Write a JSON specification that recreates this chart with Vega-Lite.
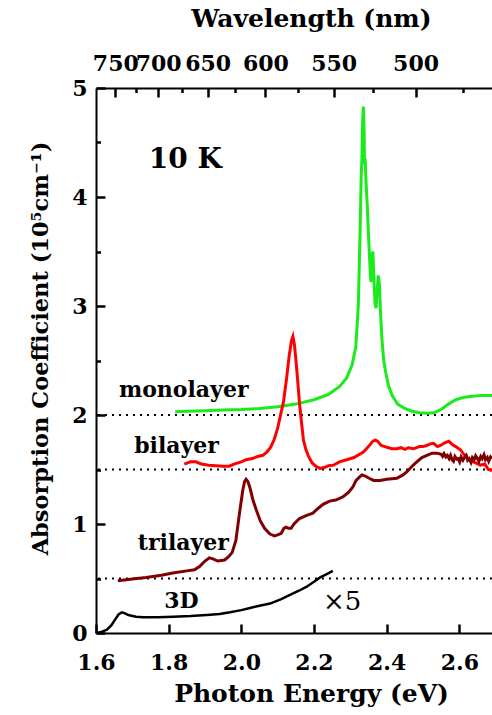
{
  "$schema": "https://vega.github.io/schema/vega-lite/v6.json",
  "width": 396,
  "height": 545,
  "autosize": "none",
  "padding": {"left": 96, "top": 88, "right": 0, "bottom": 82},
  "background": "white",
  "config": {
    "font": "DejaVu Serif",
    "view": {"stroke": null},
    "axis": {
      "labelFont": "DejaVu Serif", "labelFontWeight": "bold", "labelFontSize": 22, "labelColor": "black",
      "titleFont": "DejaVu Serif", "titleFontWeight": "bold", "titleFontSize": 25, "titleColor": "black",
      "domainColor": "black", "domainWidth": 2, "ticks": true, "tickColor": "black", "tickWidth": 2.5, "tickOpacity": 1,
      "grid": false, "labelOverlap": false, "labelBound": false, "labelFlush": false
    }
  },
  "datasets": {
    "levels": [{"v": 2}, {"v": 1.5}, {"v": 0.5}],
    "mono": [
      {"e":1.818,"v":2.03},{"e":1.85,"v":2.035},{"e":1.9,"v":2.04},{"e":1.95,"v":2.045},{"e":2.0,"v":2.05},
      {"e":2.05,"v":2.06},{"e":2.1,"v":2.075},{"e":2.15,"v":2.1},{"e":2.2,"v":2.14},{"e":2.24,"v":2.19},
      {"e":2.27,"v":2.26},{"e":2.29,"v":2.34},{"e":2.305,"v":2.46},{"e":2.315,"v":2.62},{"e":2.322,"v":3.0},
      {"e":2.327,"v":3.7},{"e":2.33,"v":4.2},{"e":2.332,"v":4.35},{"e":2.334,"v":4.7},{"e":2.336,"v":4.83},
      {"e":2.338,"v":4.6},{"e":2.339,"v":4.3},{"e":2.341,"v":4.35},{"e":2.343,"v":4.15},{"e":2.347,"v":3.9},
      {"e":2.35,"v":3.65},{"e":2.353,"v":3.45},{"e":2.355,"v":3.3},{"e":2.357,"v":3.22},{"e":2.359,"v":3.45},
      {"e":2.362,"v":3.5},{"e":2.365,"v":3.25},{"e":2.368,"v":3.02},{"e":2.371,"v":2.98},{"e":2.374,"v":3.15},
      {"e":2.377,"v":3.28},{"e":2.38,"v":3.2},{"e":2.383,"v":2.95},{"e":2.387,"v":2.7},{"e":2.392,"v":2.5},
      {"e":2.398,"v":2.38},{"e":2.405,"v":2.27},{"e":2.415,"v":2.18},{"e":2.43,"v":2.1},{"e":2.45,"v":2.06},
      {"e":2.47,"v":2.035},{"e":2.49,"v":2.02},{"e":2.51,"v":2.015},{"e":2.53,"v":2.02},{"e":2.55,"v":2.05},
      {"e":2.57,"v":2.1},{"e":2.59,"v":2.14},{"e":2.61,"v":2.16},{"e":2.63,"v":2.17},{"e":2.66,"v":2.18},{"e":2.69,"v":2.18}
    ],
    "bi": [
      {"e":1.843,"v":1.55},{"e":1.86,"v":1.57},{"e":1.875,"v":1.57},{"e":1.89,"v":1.55},{"e":1.91,"v":1.54},
      {"e":1.93,"v":1.535},{"e":1.95,"v":1.53},{"e":1.967,"v":1.53},{"e":1.98,"v":1.55},{"e":2.0,"v":1.57},
      {"e":2.013,"v":1.59},{"e":2.03,"v":1.6},{"e":2.045,"v":1.62},{"e":2.059,"v":1.63},{"e":2.07,"v":1.66},
      {"e":2.08,"v":1.7},{"e":2.09,"v":1.77},{"e":2.1,"v":1.88},{"e":2.108,"v":2.0},{"e":2.116,"v":2.12},
      {"e":2.124,"v":2.32},{"e":2.132,"v":2.55},{"e":2.138,"v":2.68},{"e":2.142,"v":2.72},{"e":2.146,"v":2.65},
      {"e":2.151,"v":2.48},{"e":2.156,"v":2.28},{"e":2.16,"v":2.11},{"e":2.166,"v":1.92},{"e":2.171,"v":1.77},
      {"e":2.178,"v":1.68},{"e":2.185,"v":1.62},{"e":2.195,"v":1.56},{"e":2.205,"v":1.53},{"e":2.217,"v":1.51},
      {"e":2.23,"v":1.52},{"e":2.24,"v":1.535},{"e":2.254,"v":1.54},{"e":2.27,"v":1.57},{"e":2.29,"v":1.59},
      {"e":2.31,"v":1.61},{"e":2.336,"v":1.66},{"e":2.35,"v":1.71},{"e":2.362,"v":1.76},{"e":2.369,"v":1.77},
      {"e":2.375,"v":1.76},{"e":2.385,"v":1.72},{"e":2.395,"v":1.71},{"e":2.405,"v":1.7},{"e":2.415,"v":1.69},
      {"e":2.428,"v":1.69},{"e":2.44,"v":1.7},{"e":2.45,"v":1.685},{"e":2.46,"v":1.7},{"e":2.474,"v":1.69},
      {"e":2.49,"v":1.71},{"e":2.5,"v":1.71},{"e":2.51,"v":1.72},{"e":2.52,"v":1.735},{"e":2.529,"v":1.74},
      {"e":2.54,"v":1.71},{"e":2.548,"v":1.72},{"e":2.56,"v":1.745},{"e":2.571,"v":1.76},{"e":2.58,"v":1.73},
      {"e":2.59,"v":1.71},{"e":2.603,"v":1.68},{"e":2.615,"v":1.63},{"e":2.63,"v":1.58},{"e":2.645,"v":1.56},
      {"e":2.658,"v":1.54},{"e":2.67,"v":1.55},{"e":2.68,"v":1.5},{"e":2.69,"v":1.49}
    ],
    "tri": [
      {"e":1.66,"v":0.48},{"e":1.7,"v":0.495},{"e":1.738,"v":0.51},{"e":1.78,"v":0.53},{"e":1.811,"v":0.55},
      {"e":1.85,"v":0.57},{"e":1.871,"v":0.58},{"e":1.885,"v":0.61},{"e":1.9,"v":0.66},{"e":1.912,"v":0.69},
      {"e":1.922,"v":0.68},{"e":1.935,"v":0.66},{"e":1.954,"v":0.67},{"e":1.965,"v":0.7},{"e":1.975,"v":0.74},
      {"e":1.985,"v":0.85},{"e":1.995,"v":1.1},{"e":2.004,"v":1.31},{"e":2.009,"v":1.39},{"e":2.013,"v":1.41},
      {"e":2.018,"v":1.39},{"e":2.024,"v":1.33},{"e":2.032,"v":1.22},{"e":2.041,"v":1.13},{"e":2.052,"v":1.03},
      {"e":2.064,"v":0.96},{"e":2.078,"v":0.91},{"e":2.091,"v":0.89},{"e":2.1,"v":0.9},{"e":2.11,"v":0.915},
      {"e":2.117,"v":0.96},{"e":2.123,"v":0.97},{"e":2.13,"v":0.96},{"e":2.137,"v":0.96},{"e":2.145,"v":1.0},
      {"e":2.16,"v":1.05},{"e":2.18,"v":1.08},{"e":2.197,"v":1.1},{"e":2.21,"v":1.14},{"e":2.225,"v":1.18},
      {"e":2.243,"v":1.21},{"e":2.26,"v":1.22},{"e":2.28,"v":1.25},{"e":2.295,"v":1.29},{"e":2.307,"v":1.34},
      {"e":2.316,"v":1.4},{"e":2.325,"v":1.43},{"e":2.332,"v":1.45},{"e":2.341,"v":1.44},{"e":2.352,"v":1.42},
      {"e":2.364,"v":1.4},{"e":2.382,"v":1.4},{"e":2.4,"v":1.41},{"e":2.428,"v":1.42},{"e":2.445,"v":1.45},
      {"e":2.456,"v":1.48},{"e":2.47,"v":1.53},{"e":2.483,"v":1.57},{"e":2.497,"v":1.61},{"e":2.511,"v":1.63},
      {"e":2.525,"v":1.65},{"e":2.539,"v":1.65},{"e":2.55,"v":1.64},{"e":2.554,"v":1.62},{"e":2.558,"v":1.645},
      {"e":2.563,"v":1.615},{"e":2.567,"v":1.63},{"e":2.572,"v":1.6},{"e":2.576,"v":1.63},{"e":2.58,"v":1.59},
      {"e":2.584,"v":1.575},{"e":2.588,"v":1.62},{"e":2.593,"v":1.595},{"e":2.597,"v":1.6},{"e":2.601,"v":1.57},
      {"e":2.605,"v":1.615},{"e":2.61,"v":1.585},{"e":2.614,"v":1.61},{"e":2.619,"v":1.63},{"e":2.623,"v":1.585},
      {"e":2.627,"v":1.6},{"e":2.632,"v":1.565},{"e":2.636,"v":1.61},{"e":2.641,"v":1.59},{"e":2.645,"v":1.625},
      {"e":2.65,"v":1.6},{"e":2.654,"v":1.575},{"e":2.659,"v":1.62},{"e":2.663,"v":1.6},{"e":2.668,"v":1.635},
      {"e":2.672,"v":1.59},{"e":2.677,"v":1.61},{"e":2.681,"v":1.575},{"e":2.686,"v":1.615},{"e":2.69,"v":1.6}
    ],
    "d3": [
      {"e":1.6,"v":0.0},{"e":1.615,"v":0.01},{"e":1.63,"v":0.03},{"e":1.642,"v":0.07},{"e":1.652,"v":0.12},
      {"e":1.662,"v":0.17},{"e":1.671,"v":0.19},{"e":1.68,"v":0.18},{"e":1.689,"v":0.165},{"e":1.71,"v":0.15},
      {"e":1.73,"v":0.145},{"e":1.77,"v":0.145},{"e":1.813,"v":0.15},{"e":1.86,"v":0.155},{"e":1.905,"v":0.165},
      {"e":1.94,"v":0.175},{"e":1.969,"v":0.19},{"e":2.0,"v":0.21},{"e":2.024,"v":0.23},{"e":2.05,"v":0.25},
      {"e":2.079,"v":0.27},{"e":2.11,"v":0.31},{"e":2.134,"v":0.35},{"e":2.16,"v":0.39},{"e":2.18,"v":0.425},
      {"e":2.2,"v":0.47},{"e":2.217,"v":0.51},{"e":2.235,"v":0.54},{"e":2.252,"v":0.57}
    ],
    "big": [{"e":1.745,"v":4.27,"t":"10 K"}],
    "labels": [
      {"e":1.663,"v":2.165,"t":"monolayer"},
      {"e":1.705,"v":1.654,"t":"bilayer"},
      {"e":1.715,"v":0.76,"t":"trilayer"},
      {"e":1.788,"v":0.23,"t":"3D"}
    ],
    "times": [{"e":2.225,"v":0.21,"t":"×5"}]
  },
  "layer": [
    {
      "layer": [
        {
          "data": {"name": "levels"},
          "mark": {"type": "rule", "strokeDash": [2, 5], "strokeWidth": 2, "color": "black"},
          "encoding": {
            "y": {
              "field": "v", "type": "quantitative",
              "scale": {"domain": [0, 5], "nice": false, "zero": true},
              "title": "Absorption Coefficient (10⁵cm⁻¹)",
              "axis": {
                "titleFontSize": 22.5,
                "values": [0, 0.5, 1, 1.5, 2, 2.5, 3, 3.5, 4, 4.5, 5],
                "labelExpr": "datum.value % 1 == 0 ? format(datum.value, 'd') : ''",
                "tickSize": {"condition": {"test": "datum.value % 1 == 0", "value": -9}, "value": -4.5},
                "labelPadding": 18,
                "titlePadding": 19,
                "titleY": 260
              }
            }
          }
        },
        {
          "data": {"name": "mono"},
          "mark": {"type": "line", "color": "#1aeb1a", "strokeWidth": 3, "clip": true},
          "encoding": {
            "x": {
              "field": "e", "type": "quantitative",
              "scale": {"domain": [1.6, 2.69], "nice": false, "zero": false},
              "title": "Photon Energy (eV)",
              "axis": {
                "values": [1.6, 1.7, 1.8, 1.9, 2.0, 2.1, 2.2, 2.3, 2.4, 2.5, 2.6],
                "labelExpr": "round(datum.value*10) % 2 == 0 ? format(datum.value, '.1f') : ''",
                "tickSize": {"condition": {"test": "round(datum.value*10) % 2 == 0", "value": -9}, "value": -4.5},
                "labelPadding": 28,
                "titlePadding": 8,
                "titleX": 215
              }
            },
            "y": {"field": "v", "type": "quantitative", "title": "Absorption Coefficient (10⁵cm⁻¹)"}
          }
        },
        {
          "data": {"name": "bi"},
          "mark": {"type": "line", "color": "#ff0000", "strokeWidth": 3, "clip": true},
          "encoding": {
            "x": {"field": "e", "type": "quantitative", "title": "Photon Energy (eV)"},
            "y": {"field": "v", "type": "quantitative", "title": "Absorption Coefficient (10⁵cm⁻¹)"}
          }
        },
        {
          "data": {"name": "tri"},
          "mark": {"type": "line", "color": "#800000", "strokeWidth": 3, "clip": true},
          "encoding": {
            "x": {"field": "e", "type": "quantitative", "title": "Photon Energy (eV)"},
            "y": {"field": "v", "type": "quantitative", "title": "Absorption Coefficient (10⁵cm⁻¹)"}
          }
        },
        {
          "data": {"name": "d3"},
          "mark": {"type": "line", "color": "black", "strokeWidth": 2.5, "clip": true},
          "encoding": {
            "x": {"field": "e", "type": "quantitative", "title": "Photon Energy (eV)"},
            "y": {"field": "v", "type": "quantitative", "title": "Absorption Coefficient (10⁵cm⁻¹)"}
          }
        },
        {
          "data": {"name": "times"},
          "mark": {"type": "text", "align": "left", "baseline": "alphabetic", "font": "DejaVu Serif", "fontSize": 26, "color": "black"},
          "encoding": {
            "x": {"field": "e", "type": "quantitative", "title": "Photon Energy (eV)"},
            "y": {"field": "v", "type": "quantitative", "title": "Absorption Coefficient (10⁵cm⁻¹)"},
            "text": {"field": "t"}
          }
        },
        {
          "data": {"name": "big"},
          "mark": {"type": "text", "align": "left", "baseline": "alphabetic", "font": "DejaVu Serif", "fontWeight": "bold", "fontSize": 28, "color": "black"},
          "encoding": {
            "x": {"field": "e", "type": "quantitative", "title": "Photon Energy (eV)"},
            "y": {"field": "v", "type": "quantitative", "title": "Absorption Coefficient (10⁵cm⁻¹)"},
            "text": {"field": "t"}
          }
        }
      ]
    },
    {
      "data": {"name": "labels"},
      "mark": {"type": "text", "align": "left", "baseline": "alphabetic", "font": "DejaVu Serif", "fontWeight": "bold", "fontSize": 22, "color": "black"},
      "encoding": {
        "x": {
          "field": "e", "type": "quantitative",
          "scale": {"domain": [1.6, 2.69], "nice": false, "zero": false},
          "title": "Wavelength (nm)",
          "axis": {
            "orient": "top",
            "values": [1.65312, 1.71012, 1.7712, 1.8368, 1.90745, 1.98374, 2.0664, 2.15625, 2.25425, 2.3616, 2.47968, 2.61019],
            "labelExpr": "round(1239.84/datum.value) % 50 == 0 ? format(round(1239.84/datum.value), 'd') : ''",
            "tickSize": {"condition": {"test": "round(1239.84/datum.value) % 50 == 0", "value": -9}, "value": -4.5},
            "labelPadding": 22,
            "titlePadding": 16,
            "titleX": 215
          }
        },
        "y": {"field": "v", "type": "quantitative", "title": "Absorption Coefficient (10⁵cm⁻¹)"},
        "text": {"field": "t"}
      }
    }
  ],
  "resolve": {"scale": {"x": "independent"}}
}
